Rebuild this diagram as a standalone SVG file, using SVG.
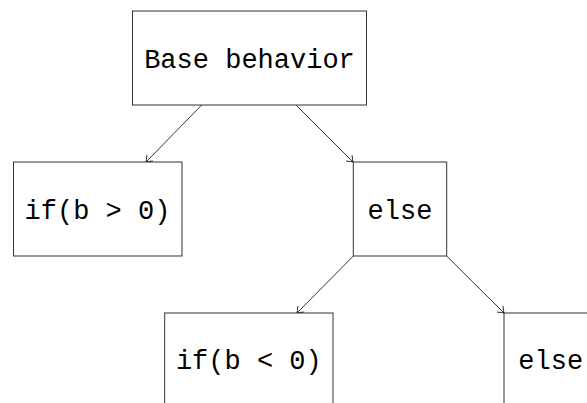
<svg xmlns="http://www.w3.org/2000/svg" width="587" height="403" viewBox="0 0 587 403">
  <style>
    .box { fill: #ffffff; stroke: #333333; stroke-width: 1; }
    .lbl { font-family: "Liberation Mono", "DejaVu Sans Mono", monospace; font-size: 27px; fill: #000000; text-anchor: middle; }
    .edge { fill: none; stroke: #000000; stroke-width: 0.8; marker-end: url(#tip); }
  </style>
  <defs>
    <marker id="tip" markerUnits="userSpaceOnUse" markerWidth="12" markerHeight="12" refX="0" refY="0" viewBox="-8 -6 10 12" orient="auto" overflow="visible">
      <path d="M -5.5,-4.2 Q -1.5,-0.8 0,0 Q -1.5,0.8 -5.5,4.2" fill="none" stroke="#000000" stroke-width="0.8"/>
    </marker>
  </defs>

  <g id="connectors">
    <line class="edge" x1="201.7" y1="105" x2="146" y2="162"/>
    <line class="edge" x1="296" y1="105" x2="353" y2="162"/>
    <line class="edge" x1="353.3" y1="256" x2="297" y2="313"/>
    <line class="edge" x1="446.7" y1="256" x2="504" y2="313"/>
  </g>

  <g id="base">
    <rect class="box" x="132.5" y="11" width="234" height="94"/>
    <text class="lbl" x="249.5" y="68">Base behavior</text>
  </g>

  <g id="if-positive">
    <rect class="box" x="13.5" y="162" width="168.5" height="94"/>
    <text class="lbl" x="97.5" y="219">if(b &gt; 0)</text>
  </g>

  <g id="else-outer">
    <rect class="box" x="353.3" y="162" width="93.4" height="94"/>
    <text class="lbl" x="400" y="219">else</text>
  </g>

  <g id="if-negative">
    <rect class="box" x="164.7" y="313" width="168.3" height="94"/>
    <text class="lbl" x="248.8" y="369">if(b &lt; 0)</text>
  </g>

  <g id="else-inner">
    <rect class="box" x="504" y="313" width="93.4" height="94"/>
    <text class="lbl" x="550.7" y="369">else</text>
  </g>
</svg>
